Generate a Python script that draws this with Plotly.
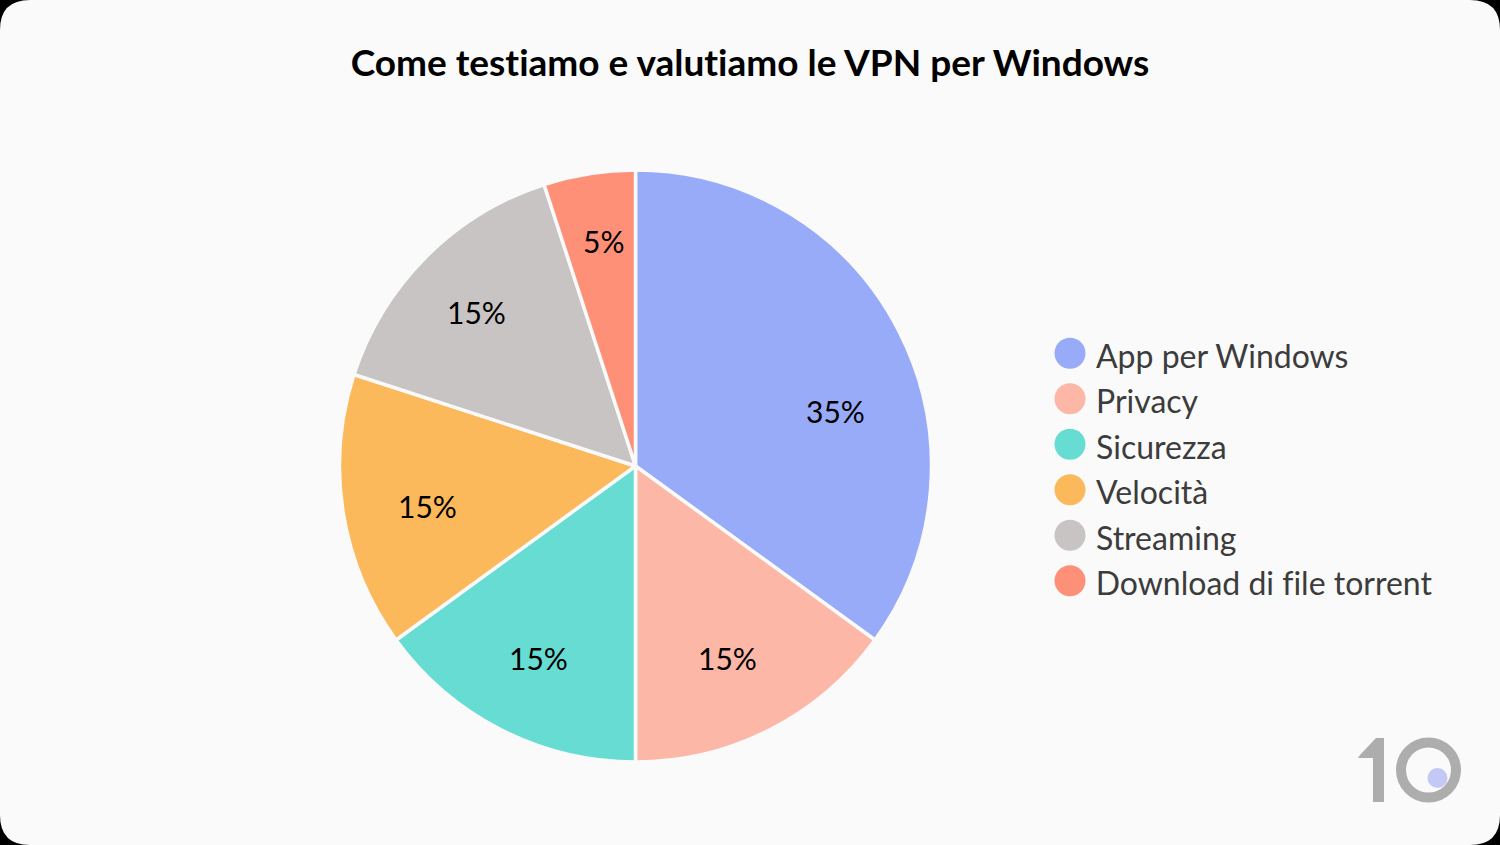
import plotly.graph_objects as go

W, H = 1500, 845
TITLE = "Come testiamo e valutiamo le VPN per Windows"
categories = ["App per Windows", "Privacy", "Sicurezza", "Velocità", "Streaming", "Download di file torrent"]
values = [35, 15, 15, 15, 15, 5]
colors = ["#98abf9", "#fcb7a6", "#67dcd3", "#fcb95b", "#c8c4c3", "#fe9078"]
FONT = "Lato"
# centres of the percentage labels, in page pixels
label_pos = [(835, 411), (727, 658), (538, 658), (427, 506), (476, 312), (603, 241)]

def px(x): return x / W
def py(y): return 1 - y / H

fig = go.Figure()
fig.add_trace(go.Pie(
    labels=categories, values=values, sort=False, direction="clockwise", rotation=0,
    marker=dict(colors=colors, line=dict(color="#fafafa", width=3.5)),
    textinfo="none",
    domain=dict(x=[px(339.5), px(931.5)], y=[py(762), py(170)]),
    showlegend=False, hoverinfo="label+percent",
))
fig.add_trace(go.Scatter(
    x=[0] * len(categories), y=categories, mode="markers",
    marker=dict(size=31, color=colors, line=dict(width=0)),
    showlegend=False, hoverinfo="skip", cliponaxis=False,
))

def rr(x0, y0, x1, y1, r):
    pts = [f"M{px(x0+r)},{py(y0)}", f"L{px(x1-r)},{py(y0)}", f"Q{px(x1)},{py(y0)} {px(x1)},{py(y0+r)}",
           f"L{px(x1)},{py(y1-r)}", f"Q{px(x1)},{py(y1)} {px(x1-r)},{py(y1)}",
           f"L{px(x0+r)},{py(y1)}", f"Q{px(x0)},{py(y1)} {px(x0)},{py(y1-r)}",
           f"L{px(x0)},{py(y0+r)}", f"Q{px(x0)},{py(y0)} {px(x0+r)},{py(y0)}", "Z"]
    return " ".join(pts)

def poly(points):
    return "M" + " L".join(f"{px(a)},{py(b)}" for a, b in points) + " Z"

def circle(cx, cy, r, **kw):
    return dict(type="circle", xref="paper", yref="paper", x0=px(cx-r), x1=px(cx+r),
                y0=py(cy+r), y1=py(cy-r), layer="below", **kw)

shapes = [
    dict(type="path", xref="paper", yref="paper", path=rr(0, 0, W, H, 30),
         fillcolor="#fafafa", line=dict(width=0), layer="below"),
    dict(type="path", xref="paper", yref="paper",
         path=poly([(1373, 802), (1373, 758), (1358, 758), (1360, 755), (1376, 738), (1384, 738), (1384, 802)]),
         fillcolor="#adadad", line=dict(width=0), layer="below"),
    circle(1428.5, 770, 27.5, fillcolor="rgba(0,0,0,0)", line=dict(color="#adadad", width=10)),
    circle(1437.5, 778, 10, fillcolor="#c3c8f4", line=dict(width=0)),
]

annotations = [
    dict(text=f"{v}%", xref="paper", yref="paper", x=px(p[0]), y=py(p[1]), xanchor="center", yanchor="middle",
         showarrow=False, font=dict(family=FONT, size=30, color="#000000"))
    for v, p in zip(values, label_pos)
] + [
    dict(text=c, xref="x", yref="y", x=24, y=c, xanchor="left", yanchor="middle", yshift=-2,
         showarrow=False, font=dict(family=FONT, size=32, color="#3c3c3c"))
    for c in categories
]

fig.update_layout(
    width=W, height=H, margin=dict(l=0, r=0, t=0, b=0),
    paper_bgcolor="#000000", plot_bgcolor="rgba(0,0,0,0)",
    shapes=shapes, annotations=annotations,
    title=dict(text=f"<b>{TITLE}</b>", x=0.5, xanchor="center", y=py(63), yanchor="middle",
               font=dict(family=FONT, size=37, color="#000000")),
    xaxis=dict(visible=False, domain=[px(1070), px(1450)], range=[0, 380], fixedrange=True),
    yaxis=dict(visible=False, domain=[py(603.5), py(330.5)], range=[5.5, -0.5], type="category",
               fixedrange=True),
)
fig.write_html(
    "out.html",
    config={"displayModeBar": False},
    post_script="document.body.style.margin='0';document.body.style.background='#000';"
                "var s=document.createElement('style');"
                "s.textContent='svg text,svg tspan{font-variant-ligatures:none !important;font-feature-settings:\"liga\" 0 !important}';"
                "document.head.appendChild(s);",
)
